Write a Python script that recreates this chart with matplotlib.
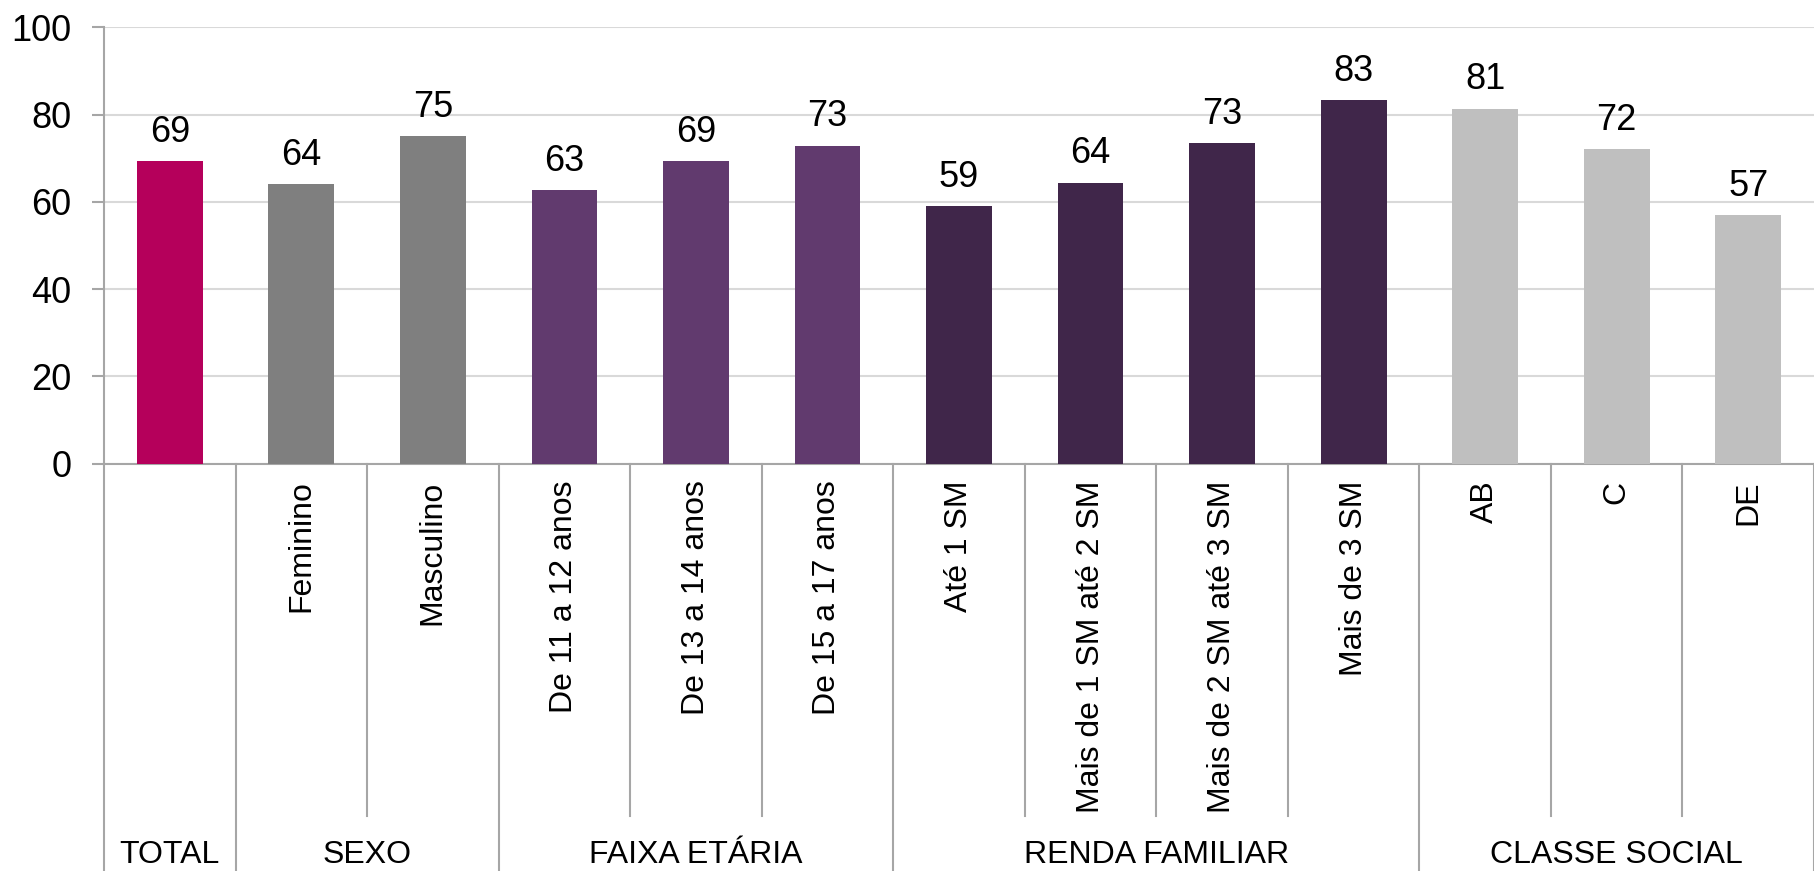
import matplotlib
matplotlib.use("Agg")
import matplotlib.pyplot as plt
import matplotlib.transforms as mtransforms

plt.rcParams['font.family'] = ['Liberation Sans', 'DejaVu Sans']

groups = ["TOTAL", "SEXO", "FAIXA ETÁRIA", "RENDA FAMILIAR", "CLASSE SOCIAL"]
group_sizes = [1, 2, 3, 4, 3]
categories = ["", "Feminino", "Masculino", "De 11 a 12 anos", "De 13 a 14 anos",
              "De 15 a 17 anos", "Até 1 SM", "Mais de 1 SM até 2 SM",
              "Mais de 2 SM até 3 SM", "Mais de 3 SM", "AB", "C", "DE"]
values = [69.3, 64.0, 75.0, 62.7, 69.3, 72.9, 59.0, 64.4, 73.4, 83.3, 81.4, 72.1, 56.9]
group_colors = ["#B5005B", "#7F7F7F", "#613A6E", "#40264A", "#BFBFBF"]
yticks = [0, 20, 40, 60, 80, 100]

colors = []
for c, n in zip(group_colors, group_sizes):
    colors += [c] * n

W, H = 1814, 871
fig = plt.figure(figsize=(W / 100, H / 100), dpi=100)
ax_left, ax_right = 104 / W, 1.0
y0_px, y100_px = 463.5, 27.5
ax = fig.add_axes([ax_left, 1 - y0_px / H, ax_right - ax_left, (y0_px - y100_px) / H])
axh_px = y0_px - y100_px

n = len(values)
x = list(range(n))
ax.bar(x, values, width=0.5, color=colors, zorder=3)
ax.set_xlim(-0.5, n - 0.5)
ax.set_ylim(0, 100)
ax.set_yticks(yticks)
ax.yaxis.grid(True, color="#D9D9D9", linewidth=1.5, zorder=0)
ax.set_xticks([])
for s in ["top", "right"]:
    ax.spines[s].set_visible(False)
for s in ["left", "bottom"]:
    ax.spines[s].set_color("#A6A6A6")
    ax.spines[s].set_linewidth(1.5)
ax.tick_params(axis="y", length=8.6, width=1.5, color="#A6A6A6", labelsize=26, pad=15)

for xi, v in zip(x, values):
    ax.annotate(f"{v:.0f}", (xi, v), xytext=(0, 13.9), textcoords="offset points",
                ha="center", va="baseline", fontsize=26)

trans = mtransforms.blended_transform_factory(ax.transData, ax.transAxes)
inner_bottom = -(816 - y0_px) / axh_px
outer_bottom = -(H - y0_px + 5) / axh_px

boundaries = [0]
for s in group_sizes:
    boundaries.append(boundaries[-1] + s)
group_bounds = set(boundaries)
for b in range(n + 1):
    xb = b - 0.5
    yb = outer_bottom if b in group_bounds else inner_bottom
    ax.plot([xb, xb], [0, yb], transform=trans, color="#A6A6A6", lw=1.5,
            clip_on=False, zorder=1)

for xi, lab in zip(x, categories):
    if lab:
        ax.text(xi, -17 / axh_px, lab, transform=trans, rotation=90,
                ha="center", va="top", fontsize=23)

gy = -(855 - y0_px) / axh_px
for g, s, e in zip(groups, boundaries[:-1], boundaries[1:]):
    ax.text((s + e - 1) / 2, gy, g, transform=trans, ha="center",
            va="center", fontsize=23)

fig.savefig("out.png", dpi=100)
